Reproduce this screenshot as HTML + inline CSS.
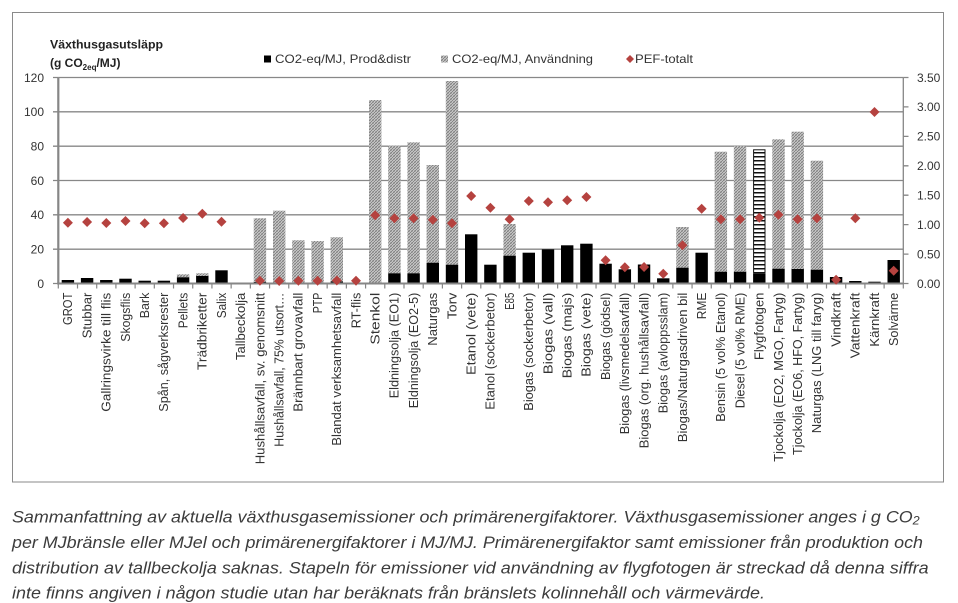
<!DOCTYPE html>
<html><head><meta charset="utf-8"><style>
html,body{margin:0;padding:0;background:#fff;width:958px;height:603px;overflow:hidden}
svg{display:block;font-family:"Liberation Sans",sans-serif}
</style></head><body>
<svg width="958" height="603" viewBox="0 0 958 603" xmlns="http://www.w3.org/2000/svg">
<defs>
<pattern id="g" width="3" height="3" patternUnits="userSpaceOnUse"><rect width="3" height="3" fill="#c2c2c2"/><rect width="1" height="1" fill="#858585"/><rect x="2" y="1" width="1" height="1" fill="#858585"/><rect x="1" y="2" width="1" height="1" fill="#858585"/><rect x="1" y="0" width="1" height="1" fill="#a8a8a8"/><rect x="0" y="2" width="1" height="1" fill="#a8a8a8"/></pattern>
<pattern id="s" width="4" height="4" patternUnits="userSpaceOnUse"><rect width="4" height="4" fill="#fff"/><rect y="0" width="4" height="1.5" fill="#111"/></pattern>
<path id="d" d="M0,-5L5,0L0,5L-5,0Z" fill="#b5423f"/>
</defs>
<rect x="12.5" y="12.5" width="931" height="469.5" fill="#fff" stroke="#8a8a8a" stroke-width="1"/>

<!-- y title -->
<text x="50" y="48.5" font-size="12" font-weight="bold" fill="#222" textLength="113" lengthAdjust="spacingAndGlyphs">Växthusgasutsläpp</text>
<text x="50" y="67" font-size="12" font-weight="bold" fill="#222">(g CO<tspan font-size="8" dy="3">2eq</tspan><tspan dy="-3">/MJ)</tspan></text>

<!-- legend -->
<rect x="264" y="55.5" width="7" height="7" fill="#000"/>
<text x="275" y="63.2" font-size="12" fill="#333" textLength="136" lengthAdjust="spacingAndGlyphs">CO2-eq/MJ, Prod&amp;distr</text>
<rect x="441" y="55.5" width="7" height="7" fill="url(#g)"/>
<text x="452" y="63.2" font-size="12" fill="#333" textLength="141" lengthAdjust="spacingAndGlyphs">CO2-eq/MJ, Användning</text>
<path d="M630,55L634,59L630,63L626,59Z" fill="#b5423f"/>
<text x="635" y="63.2" font-size="12" fill="#333" textLength="58" lengthAdjust="spacingAndGlyphs">PEF-totalt</text>

<!-- gridlines -->
<path d="M58.3,77.5H903.3M58.3,111.8H903.3M58.3,146.2H903.3M58.3,180.5H903.3M58.3,214.8H903.3M58.3,249.2H903.3" stroke="#888" stroke-width="1.3" fill="none"/>

<!-- left labels -->
<g font-size="12" fill="#333" text-anchor="end">
<text x="44" y="81.8">120</text><text x="44" y="116.1">100</text><text x="44" y="150.5">80</text><text x="44" y="184.8">60</text><text x="44" y="219.1">40</text><text x="44" y="253.5">20</text><text x="44" y="287.8">0</text>
</g>
<!-- right labels -->
<g font-size="12" fill="#333">
<text x="917" y="81.8">3.50</text><text x="917" y="111.2">3.00</text><text x="917" y="140.7">2.50</text><text x="917" y="170.1">2.00</text><text x="917" y="199.5">1.50</text><text x="917" y="228.9">1.00</text><text x="917" y="258.4">0.50</text><text x="917" y="287.8">0.00</text>
</g>

<!-- gray bars -->
<g fill="url(#g)">
<rect x="176.9" y="274.3" width="12.4" height="3.0"/>
<rect x="196.1" y="273.3" width="12.4" height="2.7"/>
<rect x="253.75" y="218.3" width="12.4" height="63.7"/>
<rect x="273.0" y="210.7" width="12.4" height="71.8"/>
<rect x="292.2" y="240.3" width="12.4" height="43.2"/>
<rect x="311.4" y="241" width="12.4" height="42.5"/>
<rect x="330.6" y="237.3" width="12.4" height="44.2"/>
<rect x="369.0" y="100" width="12.4" height="183.5"/>
<rect x="388.2" y="145.7" width="12.4" height="127.6"/>
<rect x="407.4" y="142.3" width="12.4" height="131"/>
<rect x="426.6" y="165" width="12.4" height="97.7"/>
<rect x="445.8" y="81" width="12.4" height="183.7"/>
<rect x="503.4" y="224" width="12.4" height="31.7"/>
<rect x="676.25" y="227" width="12.4" height="40.7"/>
<rect x="714.65" y="151.7" width="12.4" height="120"/>
<rect x="733.85" y="146" width="12.4" height="125.7"/>
<rect x="772.3" y="139.3" width="12.4" height="129.4"/>
<rect x="791.5" y="131.7" width="12.4" height="137.3"/>
<rect x="810.7" y="160.7" width="12.4" height="109"/>
</g>
<rect x="753.6" y="149.8" width="11.4" height="123.4" fill="url(#s)" stroke="#111" stroke-width="1"/>

<!-- black bars -->
<g fill="#000">
<rect x="61.7" y="280" width="12.4" height="3.5"/>
<rect x="80.9" y="278" width="12.4" height="5.5"/>
<rect x="100.1" y="280" width="12.4" height="3.5"/>
<rect x="119.3" y="278.7" width="12.4" height="4.8"/>
<rect x="138.5" y="280.7" width="12.4" height="2.8"/>
<rect x="157.7" y="280.7" width="12.4" height="2.8"/>
<rect x="176.9" y="277.3" width="12.4" height="6.2"/>
<rect x="196.1" y="276" width="12.4" height="7.5"/>
<rect x="215.3" y="270.3" width="12.4" height="13.2"/>
<rect x="253.75" y="282" width="12.4" height="1.5"/>
<rect x="273.0" y="282.5" width="12.4" height="1"/>
<rect x="330.6" y="281.5" width="12.4" height="2"/>
<rect x="388.2" y="273.3" width="12.4" height="10.2"/>
<rect x="407.4" y="273.3" width="12.4" height="10.2"/>
<rect x="426.6" y="262.7" width="12.4" height="20.8"/>
<rect x="445.8" y="264.7" width="12.4" height="18.8"/>
<rect x="465.0" y="234.3" width="12.4" height="49.2"/>
<rect x="484.2" y="264.7" width="12.4" height="18.8"/>
<rect x="503.4" y="255.7" width="12.4" height="27.8"/>
<rect x="522.6" y="252.7" width="12.4" height="30.8"/>
<rect x="541.8" y="249.3" width="12.4" height="34.2"/>
<rect x="561.0" y="245.3" width="12.4" height="38.2"/>
<rect x="580.2" y="243.7" width="12.4" height="39.8"/>
<rect x="599.4" y="263.7" width="12.4" height="19.8"/>
<rect x="618.65" y="269.3" width="12.4" height="14.2"/>
<rect x="637.85" y="264.5" width="12.4" height="19"/>
<rect x="657.05" y="278.3" width="12.4" height="5.2"/>
<rect x="676.25" y="267.7" width="12.4" height="15.8"/>
<rect x="695.45" y="252.7" width="12.4" height="30.8"/>
<rect x="714.65" y="271.7" width="12.4" height="11.8"/>
<rect x="733.85" y="271.7" width="12.4" height="11.8"/>
<rect x="753.1" y="273.7" width="12.4" height="9.8"/>
<rect x="772.3" y="268.7" width="12.4" height="14.8"/>
<rect x="791.5" y="269" width="12.4" height="14.5"/>
<rect x="810.7" y="269.7" width="12.4" height="13.8"/>
<rect x="829.9" y="277" width="12.4" height="6.5"/>
<rect x="849.1" y="281" width="12.4" height="2.5"/>
<rect x="868.3" y="281.7" width="12.4" height="1.8"/>
<rect x="887.5" y="260" width="12.4" height="23.5"/>
</g>

<!-- axes -->
<path d="M58.3,77.5V284.5" stroke="#868686" stroke-width="2.2"/>
<path d="M57.2,283.5H903.3" stroke="#868686" stroke-width="2"/>
<path d="M903.3,77.5V284" stroke="#868686" stroke-width="1.3"/>
<path d="M53,77.5H58.3M53,111.8H58.3M53,146.2H58.3M53,180.5H58.3M53,214.8H58.3M53,249.2H58.3M53,283.5H58.3" stroke="#868686" stroke-width="1.3"/>
<path d="M903.3,77.5H908.5M903.3,106.9H908.5M903.3,136.4H908.5M903.3,165.8H908.5M903.3,195.2H908.5M903.3,224.6H908.5M903.3,254.1H908.5M903.3,283.5H908.5" stroke="#868686" stroke-width="1.3"/>
<line x1="57.7" y1="286" x2="904" y2="286" stroke="#868686" stroke-width="5" stroke-dasharray="1.2 18.005"/>

<!-- diamonds -->
<g>
<use href="#d" x="67.9" y="222.7"/><use href="#d" x="87.1" y="222"/><use href="#d" x="106.3" y="223"/><use href="#d" x="125.5" y="221"/><use href="#d" x="144.7" y="223.3"/><use href="#d" x="163.9" y="223.3"/><use href="#d" x="183.1" y="218"/><use href="#d" x="202.3" y="213.7"/><use href="#d" x="221.5" y="221.7"/>
<use href="#d" x="259.95" y="280.7"/><use href="#d" x="279.2" y="281"/><use href="#d" x="298.4" y="280.7"/><use href="#d" x="317.6" y="280.7"/><use href="#d" x="336.8" y="280.5"/><use href="#d" x="356.0" y="280.7"/>
<use href="#d" x="375.2" y="215.3"/><use href="#d" x="394.4" y="218.3"/><use href="#d" x="413.6" y="218.3"/><use href="#d" x="432.8" y="219.7"/><use href="#d" x="452.0" y="223.3"/><use href="#d" x="471.2" y="196"/><use href="#d" x="490.4" y="207.7"/><use href="#d" x="509.6" y="219.3"/>
<use href="#d" x="528.8" y="201"/><use href="#d" x="548.0" y="202.3"/><use href="#d" x="567.2" y="200.3"/><use href="#d" x="586.4" y="197"/><use href="#d" x="605.6" y="260.3"/><use href="#d" x="624.85" y="267.3"/><use href="#d" x="644.05" y="267"/><use href="#d" x="663.25" y="273.7"/><use href="#d" x="682.45" y="245.3"/>
<use href="#d" x="701.65" y="208.7"/><use href="#d" x="720.85" y="219.3"/><use href="#d" x="740.05" y="219.3"/><use href="#d" x="759.3" y="217.7"/><use href="#d" x="778.5" y="214.7"/><use href="#d" x="797.7" y="219.3"/><use href="#d" x="816.9" y="218.3"/>
<use href="#d" x="836.1" y="279.7"/><use href="#d" x="855.3" y="218.3"/><use href="#d" x="874.5" y="112"/><use href="#d" x="893.7" y="270.7"/>
</g>

<!-- x labels -->
<g font-size="12.5" fill="#333" text-anchor="end">
<text transform="translate(67.9,292.7) rotate(-90)" dy="4.3" textLength="32.3" lengthAdjust="spacingAndGlyphs">GROT</text>
<text transform="translate(87.1,292.7) rotate(-90)" dy="4.3" textLength="45.6" lengthAdjust="spacingAndGlyphs">Stubbar</text>
<text transform="translate(106.3,292.7) rotate(-90)" dy="4.3" textLength="119" lengthAdjust="spacingAndGlyphs">Gallringsvirke till flis</text>
<text transform="translate(125.5,292.7) rotate(-90)" dy="4.3" textLength="49" lengthAdjust="spacingAndGlyphs">Skogsflis</text>
<text transform="translate(144.7,292.7) rotate(-90)" dy="4.3" textLength="25.6" lengthAdjust="spacingAndGlyphs">Bark</text>
<text transform="translate(163.9,292.7) rotate(-90)" dy="4.3" textLength="119" lengthAdjust="spacingAndGlyphs">Spån, sågverksrester</text>
<text transform="translate(183.1,292.7) rotate(-90)" dy="4.3" textLength="35.6" lengthAdjust="spacingAndGlyphs">Pellets</text>
<text transform="translate(202.3,292.7) rotate(-90)" dy="4.3" textLength="77.3" lengthAdjust="spacingAndGlyphs">Trädbriketter</text>
<text transform="translate(221.5,292.7) rotate(-90)" dy="4.3" textLength="25.6" lengthAdjust="spacingAndGlyphs">Salix</text>
<text transform="translate(240.7,292.7) rotate(-90)" dy="4.3" textLength="67.3" lengthAdjust="spacingAndGlyphs">Tallbeckolja</text>
<text transform="translate(259.95,292.7) rotate(-90)" dy="4.3" textLength="171.6" lengthAdjust="spacingAndGlyphs">Hushållsavfall, sv. genomsnitt</text>
<text transform="translate(279.2,292.7) rotate(-90)" dy="4.3" textLength="154" lengthAdjust="spacingAndGlyphs">Hushållsavfall, 75% utsort…</text>
<text transform="translate(298.4,292.7) rotate(-90)" dy="4.3" textLength="119" lengthAdjust="spacingAndGlyphs">Brännbart grovavfall</text>
<text transform="translate(317.6,292.7) rotate(-90)" dy="4.3" textLength="20.6" lengthAdjust="spacingAndGlyphs">PTP</text>
<text transform="translate(336.8,292.7) rotate(-90)" dy="4.3" textLength="153" lengthAdjust="spacingAndGlyphs">Blandat verksamhetsavfall</text>
<text transform="translate(356.0,292.7) rotate(-90)" dy="4.3" textLength="35.6" lengthAdjust="spacingAndGlyphs">RT-flis</text>
<text transform="translate(375.2,292.7) rotate(-90)" dy="4.3" textLength="52" lengthAdjust="spacingAndGlyphs">Stenkol</text>
<text transform="translate(394.4,292.7) rotate(-90)" dy="4.3" textLength="105.6" lengthAdjust="spacingAndGlyphs">Eldningsolja (EO1)</text>
<text transform="translate(413.6,292.7) rotate(-90)" dy="4.3" textLength="115.6" lengthAdjust="spacingAndGlyphs">Eldningsolja (EO2-5)</text>
<text transform="translate(432.8,292.7) rotate(-90)" dy="4.3" textLength="53" lengthAdjust="spacingAndGlyphs">Naturgas</text>
<text transform="translate(452.0,292.7) rotate(-90)" dy="4.3" textLength="26.6" lengthAdjust="spacingAndGlyphs">Torv</text>
<text transform="translate(471.2,292.7) rotate(-90)" dy="4.3" textLength="82.3" lengthAdjust="spacingAndGlyphs">Etanol (vete)</text>
<text transform="translate(490.4,292.7) rotate(-90)" dy="4.3" textLength="117" lengthAdjust="spacingAndGlyphs">Etanol (sockerbetor)</text>
<text transform="translate(509.6,292.7) rotate(-90)" dy="4.3" textLength="17" lengthAdjust="spacingAndGlyphs">E85</text>
<text transform="translate(528.8,292.7) rotate(-90)" dy="4.3" textLength="118" lengthAdjust="spacingAndGlyphs">Biogas (sockerbetor)</text>
<text transform="translate(548.0,292.7) rotate(-90)" dy="4.3" textLength="81.6" lengthAdjust="spacingAndGlyphs">Biogas (vall)</text>
<text transform="translate(567.2,292.7) rotate(-90)" dy="4.3" textLength="85.6" lengthAdjust="spacingAndGlyphs">Biogas (majs)</text>
<text transform="translate(586.4,292.7) rotate(-90)" dy="4.3" textLength="84" lengthAdjust="spacingAndGlyphs">Biogas (vete)</text>
<text transform="translate(605.6,292.7) rotate(-90)" dy="4.3" textLength="87.3" lengthAdjust="spacingAndGlyphs">Biogas (gödsel)</text>
<text transform="translate(624.85,292.7) rotate(-90)" dy="4.3" textLength="141.6" lengthAdjust="spacingAndGlyphs">Biogas (livsmedelsavfall)</text>
<text transform="translate(644.05,292.7) rotate(-90)" dy="4.3" textLength="155.6" lengthAdjust="spacingAndGlyphs">Biogas (org. hushållsavfall)</text>
<text transform="translate(663.25,292.7) rotate(-90)" dy="4.3" textLength="120.6" lengthAdjust="spacingAndGlyphs">Biogas (avloppsslam)</text>
<text transform="translate(682.45,292.7) rotate(-90)" dy="4.3" textLength="149.6" lengthAdjust="spacingAndGlyphs">Biogas/Naturgasdriven bil</text>
<text transform="translate(701.65,292.7) rotate(-90)" dy="4.3" textLength="26.6" lengthAdjust="spacingAndGlyphs">RME</text>
<text transform="translate(720.85,292.7) rotate(-90)" dy="4.3" textLength="129" lengthAdjust="spacingAndGlyphs">Bensin (5 vol% Etanol)</text>
<text transform="translate(740.05,292.7) rotate(-90)" dy="4.3" textLength="115.6" lengthAdjust="spacingAndGlyphs">Diesel (5 vol% RME)</text>
<text transform="translate(759.3,292.7) rotate(-90)" dy="4.3" textLength="67.3" lengthAdjust="spacingAndGlyphs">Flygfotogen</text>
<text transform="translate(778.5,292.7) rotate(-90)" dy="4.3" textLength="169" lengthAdjust="spacingAndGlyphs">Tjockolja (EO2, MGO, Fartyg)</text>
<text transform="translate(797.7,292.7) rotate(-90)" dy="4.3" textLength="162.3" lengthAdjust="spacingAndGlyphs">Tjockolja (EO6, HFO, Fartyg)</text>
<text transform="translate(816.9,292.7) rotate(-90)" dy="4.3" textLength="140.6" lengthAdjust="spacingAndGlyphs">Naturgas (LNG till faryg)</text>
<text transform="translate(836.1,292.7) rotate(-90)" dy="4.3" textLength="54" lengthAdjust="spacingAndGlyphs">Vindkraft</text>
<text transform="translate(855.3,292.7) rotate(-90)" dy="4.3" textLength="65.6" lengthAdjust="spacingAndGlyphs">Vattenkraft</text>
<text transform="translate(874.5,292.7) rotate(-90)" dy="4.3" textLength="54" lengthAdjust="spacingAndGlyphs">Kärnkraft</text>
<text transform="translate(893.7,292.7) rotate(-90)" dy="4.3" textLength="53.3" lengthAdjust="spacingAndGlyphs">Solvärme</text>
</g>

<!-- caption -->
<g font-size="17" font-style="italic" fill="#3c3c3c">
<text x="12" y="522.3" textLength="907.7" lengthAdjust="spacingAndGlyphs">Sammanfattning av aktuella växthusgasemissioner och primärenergifaktorer. Växthusgasemissioner anges i g CO<tspan font-size="12" dy="2">2</tspan></text>
<text x="12" y="548" textLength="911" lengthAdjust="spacingAndGlyphs">per MJbränsle eller MJel och primärenergifaktorer i MJ/MJ. Primärenergifaktor samt emissioner från produktion och</text>
<text x="12" y="573.3" textLength="916.7" lengthAdjust="spacingAndGlyphs">distribution av tallbeckolja saknas. Stapeln för emissioner vid användning av flygfotogen är streckad då denna siffra</text>
<text x="12" y="598.3" textLength="753" lengthAdjust="spacingAndGlyphs">inte finns angiven i någon studie utan har beräknats från bränslets kolinnehåll och värmevärde.</text>
</g>
</svg>
</body></html>
